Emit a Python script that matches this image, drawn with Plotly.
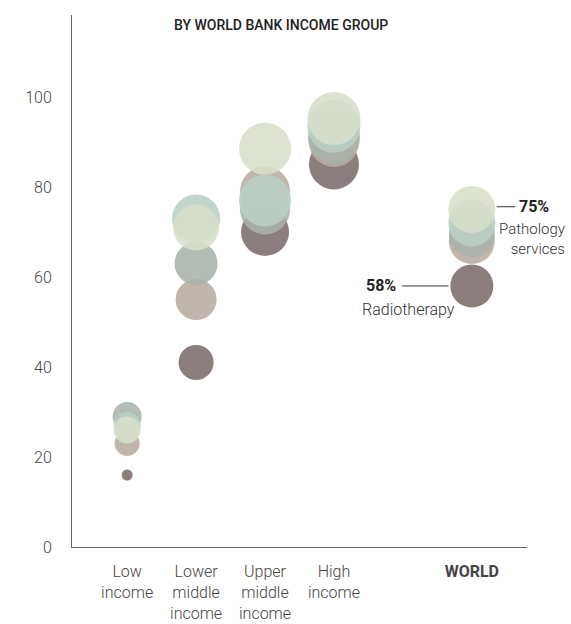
import plotly.graph_objects as go

# Categories and positions
categories = ["Low income", "Lower middle income", "Upper middle income", "High income", "WORLD"]
cat_pos = [1, 2, 3, 4, 6]
tick_labels = ["Low<br>income", "Lower<br>middle<br>income", "Upper<br>middle<br>income",
               "High<br>income", "<b>WORLD</b>"]

# Series values (% availability)
radiotherapy = [16, 41, 70, 85, 58]
service_b = [23, 55, 79, 90, 68]
service_c = [29, 63, 75, 91, 69.5]
service_d = [27, 73, 77, 93.5, 72]
pathology = [26, 71, 88.5, 95.2, 75]

# Bubble diameters
size_radiotherapy = [11, 35, 48, 50, 43]
size_b = [25, 41, 50, 50, 46]
size_c = [29, 43, 50, 52, 46]
size_d = [27, 48, 52, 53, 47]
size_pathology = [27, 46, 52, 53, 47]

series = [
    ("Radiotherapy", radiotherapy, size_radiotherapy, "#7c6c6a"),
    ("Service B", service_b, size_b, "#b8aca0"),
    ("Service C", service_c, size_c, "#a8b3ab"),
    ("Service D", service_d, size_d, "#bacfc5"),
    ("Pathology services", pathology, size_pathology, "#d7dfca"),
]

fig = go.Figure()
for name, vals, sizes, col in series:
    fig.add_trace(go.Scatter(
        x=cat_pos, y=vals, mode="markers", name=name,
        marker=dict(size=sizes, color=col, opacity=0.88, line=dict(width=0)),
        showlegend=False, hoverinfo="skip", cliponaxis=False,
    ))

FONT = "Roboto"
L, R, T, B = 72, 44, 15, 77
PW, PH = 571 - L - R, 624 - T - B


def px_x(p):
    return (p - L) / PW


def px_y(p):
    return (624 - B - p) / PH


fig.update_layout(
    width=571, height=624,
    margin=dict(l=L, r=R, t=T, b=B),
    paper_bgcolor="white", plot_bgcolor="white",
    font=dict(family=FONT, color="#333333", size=16),
)
fig.update_xaxes(
    range=[0.2, 6.8], tickvals=cat_pos, ticktext=tick_labels,
    showgrid=False, zeroline=False, showline=True, linecolor="#666666", linewidth=1,
    ticks="", ticklabelstandoff=10, automargin=False,
    tickfont=dict(family=FONT, size=16, color="#444444", weight=300),
)
fig.update_yaxes(
    range=[0, 118.2], tickvals=[0, 20, 40, 60, 80, 100],
    showgrid=False, zeroline=False, showline=True, linecolor="#666666", linewidth=1,
    ticks="", ticklabelstandoff=16, automargin=False,
    tickfont=dict(family=FONT, size=16, color="#444444", weight=300),
)

# Title
fig.add_annotation(x=px_x(281), y=px_y(25), xref="paper", yref="paper",
                   text="BY WORLD BANK INCOME GROUP", showarrow=False,
                   xanchor="center", yanchor="middle",
                   font=dict(family=FONT, size=14, color="#222222", weight=500))

# Callouts
fig.add_shape(type="line", x0=6.36, x1=6.63, y0=75.6, y1=75.6, xref="x", yref="y",
              line=dict(color="#333333", width=1))
fig.add_annotation(x=6.66, y=75.6, text="<b>75%</b>", showarrow=False, xanchor="left",
                   yanchor="middle", font=dict(family=FONT, size=16, color="#222222"))
fig.add_annotation(x=px_x(567), y=px_y(239), xref="paper", yref="paper",
                   text="Pathology<br>services", showarrow=False,
                   xanchor="right", yanchor="middle", align="right",
                   font=dict(family=FONT, size=15, color="#333333", weight=300))
fig.add_shape(type="line", x0=4.99, x1=5.66, y0=58, y1=58, xref="x", yref="y",
              line=dict(color="#333333", width=1))
fig.add_annotation(x=4.93, y=58, text="<b>58%</b>", showarrow=False, xanchor="right",
                   yanchor="middle", font=dict(family=FONT, size=16, color="#222222"))
fig.add_annotation(x=5.08, y=52.7, text="Radiotherapy", showarrow=False,
                   xanchor="center", yanchor="middle",
                   font=dict(family=FONT, size=16, color="#333333", weight=300))

fig.write_html("out.html")
